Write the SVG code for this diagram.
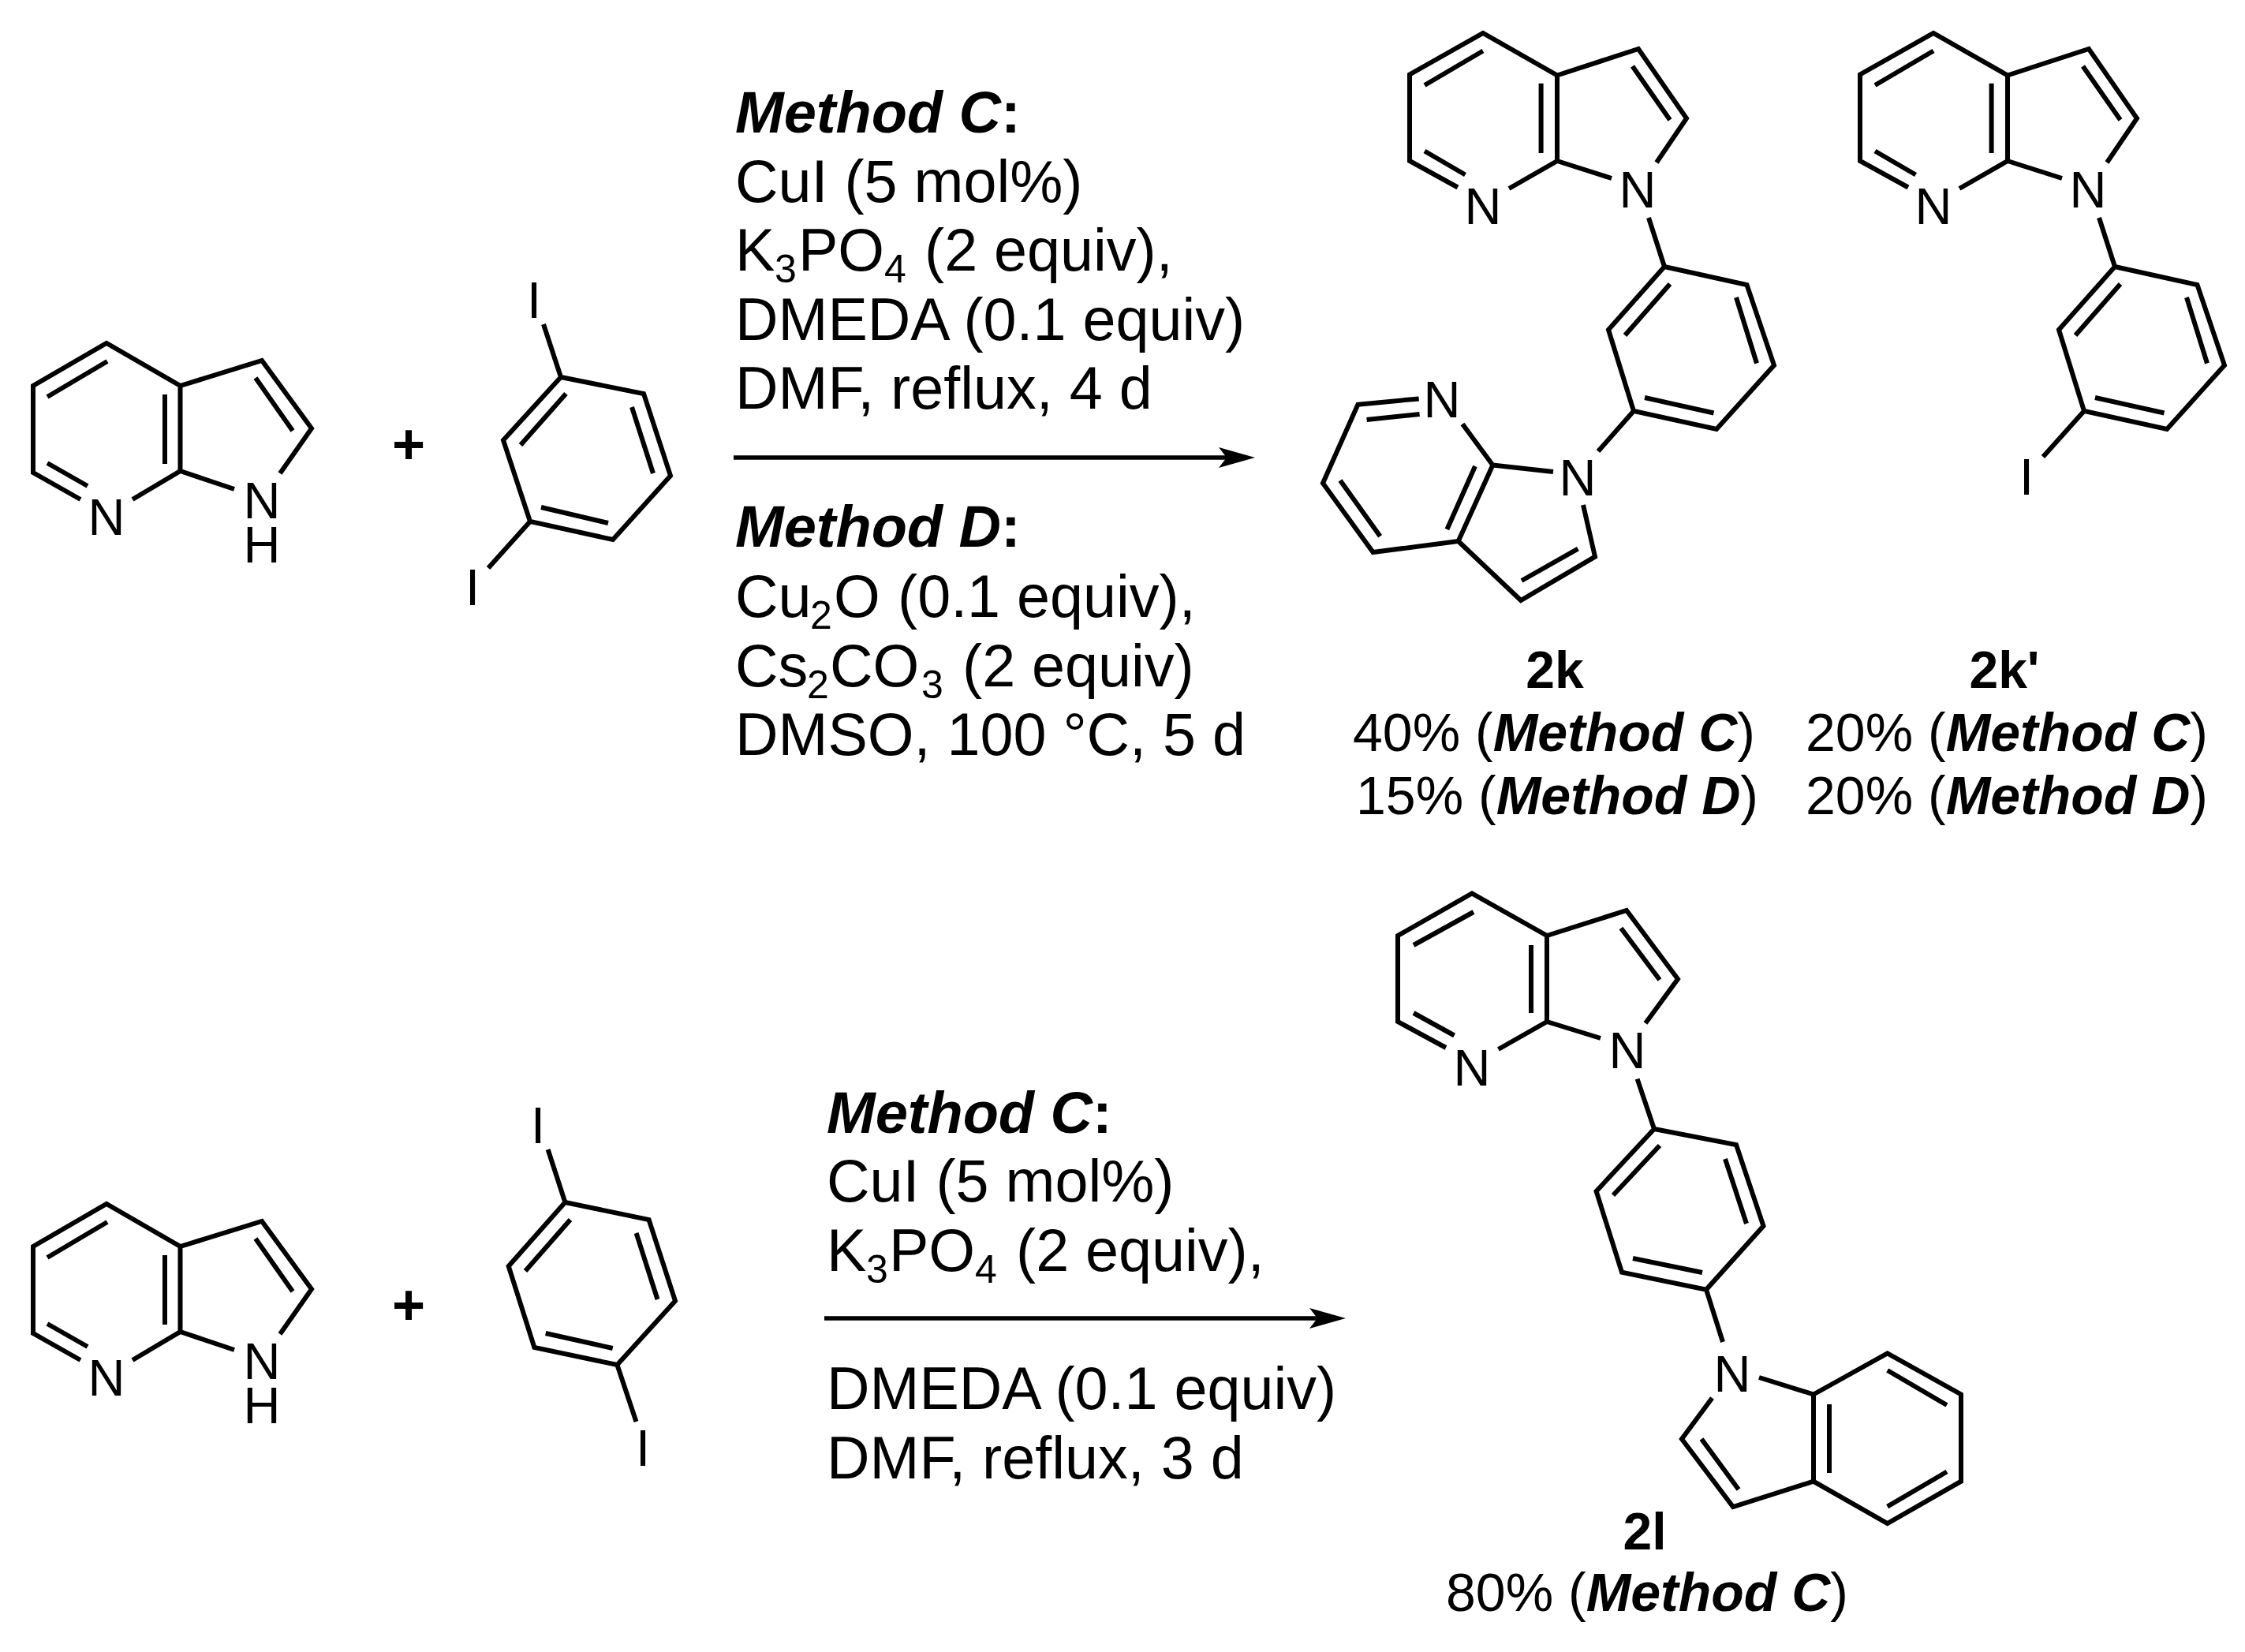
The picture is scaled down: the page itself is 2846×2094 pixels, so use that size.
<svg xmlns="http://www.w3.org/2000/svg" width="2846" height="2094" viewBox="0 0 2846 2094">
<style>
text{font-family:"Liberation Sans",Arial,sans-serif;fill:#000}
.b{fill:none;stroke:#000;stroke-width:6;stroke-linejoin:miter;stroke-linecap:butt}
.a{font-size:65px;text-anchor:middle}
.r{font-size:75.5px}
.y{font-size:68px}
.c{text-anchor:middle;font-weight:bold;font-size:66px}
.m{font-weight:bold;font-style:italic}
.h{font-size:74px}
.s{font-size:50px}
.p{font-size:72px;text-anchor:middle;font-weight:bold}
.l{fill:none;stroke:#000;stroke-width:5.5}
</style>
<defs>
<marker id="ah" markerUnits="userSpaceOnUse" viewBox="0 0 46 26" markerWidth="46" markerHeight="26" refX="10" refY="13" orient="auto"><polygon points="0,0 46,13 0,26 10,13" fill="#000"/></marker>
</defs>
<rect width="2846" height="2094" fill="#fff"/>

<g id="azaindole-top">
<path class="b" d="M102,633L42,599V489L135,435L228.5,489V597L168,633M228.5,489L332,457L395,543L355,600M228.5,597L297,620M60,503L136,458M60,587L111,616M209,500V588M324,479L371,546"/>
<text class="a" x="135" y="678">N</text><text class="a" x="332" y="657">N</text><text class="a" x="332" y="713">H</text>
</g>
<g id="plus-top"><text class="p" x="518" y="588">+</text></g>
<g id="diiodobenzene-13">
<path class="b" d="M711,478L816,499L850,603L777,684L672,661L638,558ZM717.5,499L660,564M801,516L828,600M686,643L771,663M711,478L689,411M672,661L619,720"/>
<text class="a" x="677" y="403">I</text><text class="a" x="599" y="767">I</text>
</g>
<g id="conditions-top">
<text class="h" x="932" y="168"><tspan class="m">Method C</tspan><tspan font-weight="bold">:</tspan></text>
<text class="r" x="932" y="256">CuI (5 mol%)</text>
<text class="r" x="932" y="343">K<tspan class="s" x="982" dy="15">3</tspan><tspan x="1012" dy="-15">PO</tspan><tspan class="s" x="1121" dy="15">4</tspan><tspan x="1172" dy="-15">(2 equiv),</tspan></text>
<text class="r" x="932" y="431">DMEDA (0.1 equiv)</text>
<text class="r" x="932" y="518">DMF, reflux, 4 d</text>
<text class="h" x="932" y="693"><tspan class="m">Method D</tspan><tspan font-weight="bold">:</tspan></text>
<text class="r" x="932" y="782">Cu<tspan class="s" x="1027" dy="15">2</tspan><tspan x="1057" dy="-15">O</tspan><tspan x="1138">(0.1 equiv),</tspan></text>
<text class="r" x="932" y="870">Cs<tspan class="s" x="1023" dy="15">2</tspan><tspan x="1052" dy="-15">CO</tspan><tspan class="s" x="1168" dy="15">3</tspan><tspan x="1220" dy="-15">(2 equiv)</tspan></text>
<text class="r" x="932" y="957">DMSO, 100 °C, 5 d</text>
</g>
<g id="product-2k">
<path class="b" d="M1848,237.5L1787,204V94.5L1880,42L1974,95.5V204L1913,239M1974,95.5L2077,62L2138,150L2100,206M1974,204L2043,226M1806,108L1880,64.5M1806,191.5L1857.5,221.5M1953.6,105.7V194M2069.5,84L2117,152"/>
<path class="b" d="M2090,276L2110,338M2110,338L2214.5,361L2249,463L2176,544L2071,521L2039,418ZM2117,360L2060,425M2201,377L2227,460.5M2085,504L2172.5,523.5M2071,521L2026,572"/>
<path class="b" d="M1798.7,505.4L1721.4,512.7L1677,612.5L1740.6,700L1848.7,686L1892.4,589.5L1854,537.5M1732.6,532L1799.6,525M1699,609L1749.6,679.7M1870,591L1834.4,671M1892.4,589.5L1969,598M2007,640L2022,705.7L1928,761L1848.7,686M2000.4,695.7L1929,736"/>
<text class="a" x="2076" y="263">N</text><text class="a" x="1880" y="284">N</text><text class="a" x="1828" y="529">N</text><text class="a" x="2000" y="628">N</text>
<text class="c" x="1971" y="872">2k</text>
<text class="y" x="1715" y="952">40% (<tspan class="m">Method C</tspan>)</text>
<text class="y" x="1719" y="1032">15% (<tspan class="m">Method D</tspan>)</text>
</g>
<g id="product-2k-prime">
<path class="b" d="M2419,237.5L2358,204V94.5L2451,42L2545,95.5V204L2484,239M2545,95.5L2648,62L2709,150L2671,206M2545,204L2614,226M2377,108L2451,64.5M2377,191.5L2428.5,221.5M2524.6,105.7V194M2640.5,84L2688,152"/>
<path class="b" d="M2661,276L2681,338M2681,338L2785.5,361L2820,463L2747,544L2642,521L2610,418ZM2688,360L2631,425M2772,377L2798,460.5M2656,504L2743.5,523.5M2642,521L2590,579"/>
<text class="a" x="2647" y="263">N</text><text class="a" x="2451" y="284">N</text><text class="a" x="2569" y="627">I</text>
<text class="c" x="2541" y="872">2k'</text>
<text class="y" x="2289" y="952">20% (<tspan class="m">Method C</tspan>)</text>
<text class="y" x="2289" y="1032">20% (<tspan class="m">Method D</tspan>)</text>
</g>

<g id="azaindole-bottom">
<path class="b" d="M102,1724L42,1690V1580L135,1526L228.5,1580V1688L168,1724M228.5,1580L332,1548L395,1634L355,1691M228.5,1688L297,1711M60,1594L136,1549M60,1678L111,1707M209,1591V1679M324,1570L371,1637"/>
<text class="a" x="135" y="1769">N</text><text class="a" x="332" y="1748">N</text><text class="a" x="332" y="1804">H</text>
</g>
<g id="plus-bottom"><text class="p" x="518" y="1679">+</text></g>
<g id="diiodobenzene-14">
<path class="b" d="M716.4,1524L822.6,1546L856,1649L782.4,1730L677.4,1708L644.7,1605ZM723,1546L666,1611M806.6,1563L833.5,1647M691.7,1690L776.7,1709M716.4,1524L694.6,1457M782.4,1730L806.5,1802"/>
<text class="a" x="682" y="1449">I</text><text class="a" x="815" y="1858">I</text>
</g>
<g id="conditions-bottom">
<text class="h" x="1048" y="1436"><tspan class="m">Method C</tspan><tspan font-weight="bold">:</tspan></text>
<text class="r" x="1048" y="1523">CuI (5 mol%)</text>
<text class="r" x="1048" y="1611">K<tspan class="s" x="1098" dy="15">3</tspan><tspan x="1127" dy="-15">PO</tspan><tspan class="s" x="1236" dy="15">4</tspan><tspan x="1288" dy="-15">(2 equiv),</tspan></text>
<text class="r" x="1048" y="1786">DMEDA (0.1 equiv)</text>
<text class="r" x="1048" y="1874">DMF, reflux, 3 d</text>
</g>
<g id="product-2l">
<path class="b" d="M1833,1328L1772,1295V1186L1866,1132.5L1961,1186V1295L1899.5,1330M1961,1186L2062,1154L2127,1241L2086,1297M1961,1295L2029,1316M1792,1198L1868,1156M1792,1284L1843.6,1312.5M1941,1198V1284M2055,1176.5L2104,1242"/>
<path class="b" d="M2075.6,1367.6L2097,1431M2097,1431L2201,1451L2235.5,1554L2163,1634.6L2056,1612.6L2023.6,1510ZM2104,1452L2045,1515M2187,1469L2214,1551M2070,1595L2158,1613M2163,1634.6L2184,1701"/>
<path class="b" d="M2230,1746L2299,1767.5M2299,1767.5L2392.7,1715.4L2486,1767.5V1877.7L2392.7,1931L2299,1877.7ZM2319,1780V1867M2392.7,1737L2468,1781M2468,1865.5L2392.7,1909.6M2170.5,1772L2132,1824L2197,1910L2299,1877.7M2157,1824L2204,1888"/>
<text class="a" x="2063" y="1354">N</text><text class="a" x="1866" y="1376">N</text><text class="a" x="2196" y="1764">N</text>
<text class="c" x="2085" y="1964">2l</text>
<text class="y" x="1833" y="2042">80% (<tspan class="m">Method C</tspan>)</text>
</g>

<g id="connectors">
<line class="l" x1="930" y1="580" x2="1555" y2="580" marker-end="url(#ah)"/>
<line class="l" x1="1045" y1="1671" x2="1670" y2="1671" marker-end="url(#ah)"/>
</g>
</svg>
